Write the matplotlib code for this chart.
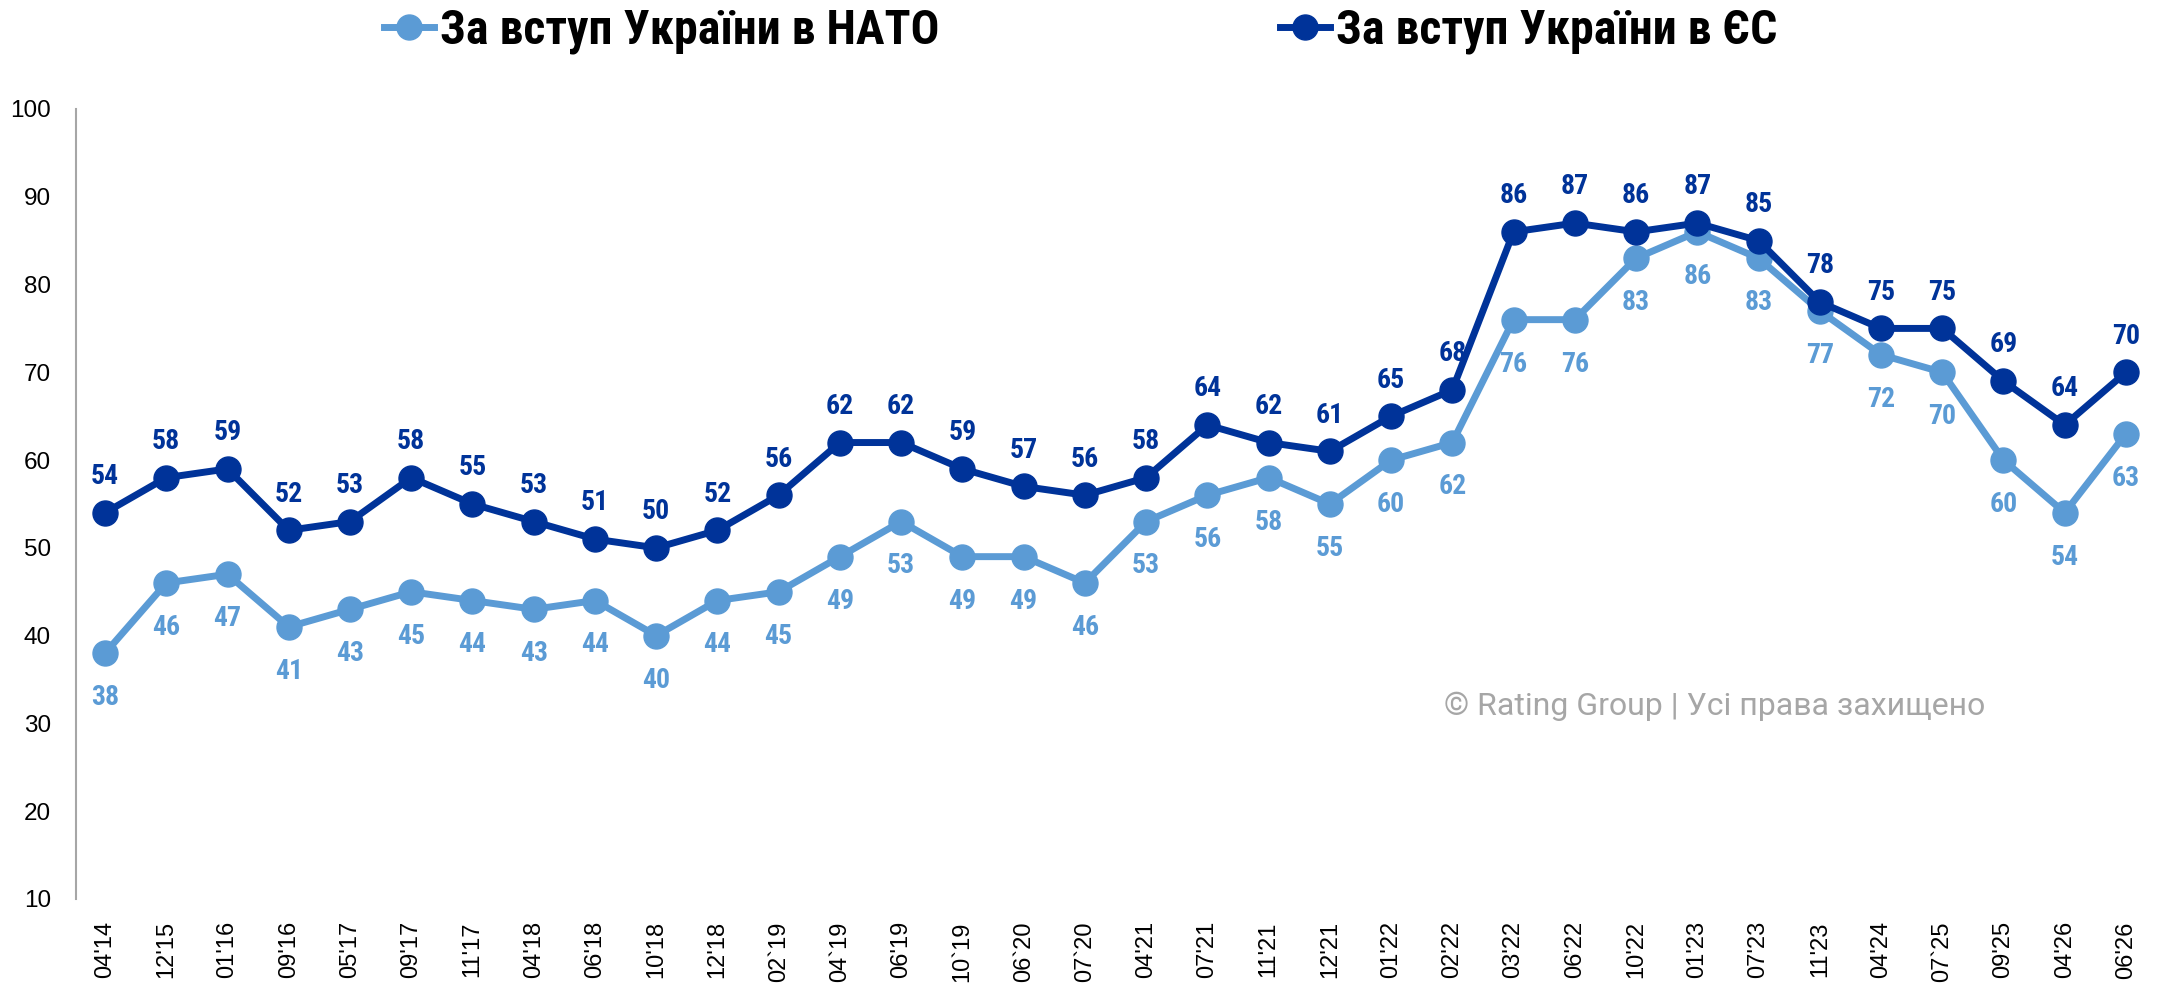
import matplotlib
matplotlib.use("Agg")
import matplotlib.pyplot as plt
import numpy as np
from matplotlib.lines import Line2D


PERIODS = ["04'14", "12'15", "01'16", "09'16", "05'17", "09'17", "11'17", "04'18",
           "06'18", "10'18", "12'18", "02`19", "04`19", "06'19", "10`19", "06`20",
           "07`20", "04'21", "07'21", "11'21", "12'21", "01'22", "02'22", "03'22",
           "06'22", "10'22", "01'23", "07'23", "11'23", "04'24", "07`25", "09'25",
           "04'26", "06'26"]
NATO = [38, 46, 47, 41, 43, 45, 44, 43, 44, 40, 44, 45, 49, 53, 49, 49, 46, 53,
        56, 58, 55, 60, 62, 76, 76, 83, 86, 83, 77, 72, 70, 60, 54, 63]
EU = [54, 58, 59, 52, 53, 58, 55, 53, 51, 50, 52, 56, 62, 62, 59, 57, 56, 58,
      64, 62, 61, 65, 68, 86, 87, 86, 87, 85, 78, 75, 75, 69, 64, 70]
YTICKS = [10, 20, 30, 40, 50, 60, 70, 80, 90, 100]

NATO_LABEL = "За вступ України в НАТО"
EU_LABEL = "За вступ України в ЄС"
NATO_COLOR = "#5B9BD5"
EU_COLOR = "#003399"
NARROW = ["Roboto Condensed", "Liberation Sans Narrow", "Roboto", "DejaVu Sans"]


def main():
    fig = plt.figure(figsize=(21.67, 9.88), dpi=100)
    ax = fig.add_axes([76 / 2167, 0.0901, 1 - 76 / 2167, 0.7996])
    x = np.arange(len(PERIODS))

    ax.plot(x, NATO, color=NATO_COLOR, lw=5, marker="o", ms=18, zorder=2)
    ax.plot(x, EU, color=EU_COLOR, lw=5, marker="o", ms=18, zorder=3)

    for xi, v in zip(x, EU):
        ax.annotate(str(v), (xi, v), xytext=(0, 26), textcoords="offset points",
                    ha="center", va="center", fontsize=20, fontweight="bold",
                    color=EU_COLOR, family=NARROW)
    for xi, v in zip(x, NATO):
        ax.annotate(str(v), (xi, v), xytext=(0, -32), textcoords="offset points",
                    ha="center", va="center", fontsize=20, fontweight="bold",
                    color=NATO_COLOR, family=NARROW)

    ax.set_xlim(-0.474, 33.67)
    ax.set_ylim(10, 100)
    ax.set_yticks(YTICKS)
    ax.set_xticks(x, PERIODS, rotation=90, fontsize=17, family="Liberation Sans")
    ax.tick_params(axis="y", labelsize=17.5, length=0, pad=18)
    ax.tick_params(axis="x", length=0, pad=16)
    for lab in ax.get_yticklabels():
        lab.set_family("Liberation Sans")
    for s in ["top", "right", "bottom"]:
        ax.spines[s].set_visible(False)
    ax.spines["left"].set_color("#A6A6A6")
    ax.spines["left"].set_linewidth(1.5)

    handles = [
        Line2D([], [], color=NATO_COLOR, lw=5, marker="o", ms=18),
        Line2D([], [], color=EU_COLOR, lw=5, marker="o", ms=18),
    ]
    fig.legend(handles, [NATO_LABEL, EU_LABEL], loc="upper left",
               bbox_to_anchor=(384 / 2167, 0.992), ncol=2, frameon=False,
               borderaxespad=0, borderpad=0,
               handlelength=1.05, handletextpad=0.12, columnspacing=7.1,
               prop={"family": NARROW, "weight": "bold", "size": 34.5})

    fig.text(1444 / 2167, 1 - 706 / 988, "© Rating Group | Усі права захищено",
             fontsize=23, color="#A6A6A6", family="Roboto", va="center", ha="left")

    fig.savefig("out.png", dpi=100)


if __name__ == "__main__":
    main()
